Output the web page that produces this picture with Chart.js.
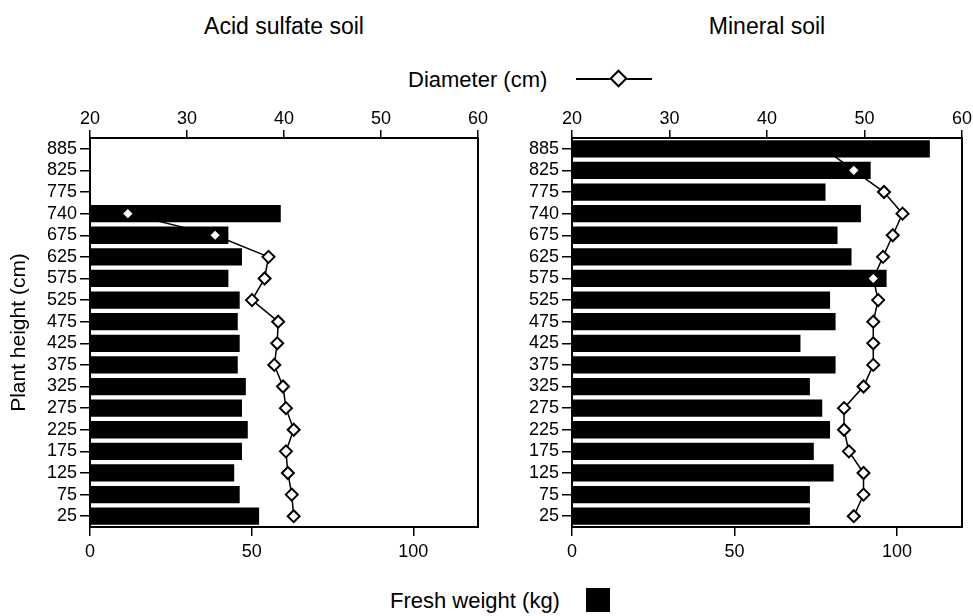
<!DOCTYPE html>
<html>
<head>
<meta charset="utf-8">
<script src="https://cdn.jsdelivr.net/npm/chart.js@4/dist/chart.umd.min.js"></script>
<style>
  html, body { margin: 0; padding: 0; background: #fff; }
  #page { position: relative; width: 973px; height: 616px; overflow: hidden; font-family: "Liberation Sans", Arial, Helvetica, sans-serif; color: #000; }
  .abs { position: absolute; white-space: nowrap; }
  .title { font-size: 23px; line-height: 23px; text-align: center; width: 300px; }
  .leg { font-size: 22px; line-height: 22px; }
  #legLine { position: absolute; left: 576px; top: 78px; width: 76px; height: 0; border-top: 2px solid #000; }
  #legDiamond { position: absolute; left: 612px; top: 72px; width: 9px; height: 9px; border: 2.5px solid #000; background: #fff; transform: rotate(45deg); }
  #legSquare { position: absolute; left: 586px; top: 588px; width: 24px; height: 24px; background: #000; }
  canvas { position: absolute; }
</style>
</head>
<body>
<div id="page">
  <div class="abs title" style="left:134px; top:15px;">Acid sulfate soil</div>
  <div class="abs title" style="left:617px; top:15px;">Mineral soil</div>
  <div class="abs leg" style="left:408px; top:69px;">Diameter (cm)</div>
  <div id="legLine"></div>
  <div id="legDiamond"></div>
  <div class="abs leg" style="left:390px; top:590px;">Fresh weight (kg)</div>
  <div id="legSquare"></div>
  <canvas id="c1" width="490" height="480" style="left:0px; top:90px;"></canvas>
  <canvas id="c2" width="483" height="480" style="left:490px; top:90px;"></canvas>
</div>
<script>
// ---- data ----
const heights = ['885','825','775','740','675','625','575','525','475','425','375','325','275','225','175','125','75','25'];
const acidWeight = [null, null, null, 59.0, 42.8, 47.0, 42.8, 46.3, 45.7, 46.3, 45.7, 48.2, 47.0, 48.8, 47.0, 44.6, 46.3, 52.3];
const acidDiameter = [null, null, null, 23.9, 32.9, 38.4, 38.0, 36.7, 39.4, 39.3, 39.0, 39.9, 40.2, 41.0, 40.2, 40.4, 40.8, 41.0];
const mineralWeight = [110.1, 91.9, 78.0, 88.9, 81.7, 86.0, 96.8, 79.4, 81.1, 70.3, 81.1, 73.2, 77.0, 79.4, 74.4, 80.5, 73.2, 73.2];
const mineralDiameter = [45.9, 48.9, 52.0, 53.9, 52.9, 51.9, 50.9, 51.4, 50.9, 50.9, 50.9, 49.9, 47.9, 47.9, 48.4, 49.9, 49.9, 48.9];
const weightTicks = [0, 50, 100];
const diameterTicks = [20, 30, 40, 50, 60];

const FONT = "'Liberation Sans', Arial, Helvetica, sans-serif";

const framePlugin = {
  id: 'frame',
  afterDatasetsDraw(chart) {
    const a = chart.chartArea, ctx = chart.ctx;
    ctx.save();
    ctx.strokeStyle = '#000';
    ctx.lineWidth = 2;
    ctx.strokeRect(a.left, a.top, a.right - a.left, a.bottom - a.top);
    ctx.restore();
  }
};

function makeChart(id, weights, diams, opts) {
  const tickFont = { family: FONT, size: 18 };
  return new Chart(document.getElementById(id), {
    data: {
      labels: heights,
      datasets: [
        {
          type: 'line', indexAxis: 'y', data: diams, xAxisID: 'x2', yAxisID: 'y',
          borderColor: '#000', borderWidth: 1.5, tension: 0, spanGaps: false,
          pointStyle: 'rectRot',
          pointRadius: (ctx) => (opts.hideFirstMarker && ctx.dataIndex === 0) ? 0 : 6,
          pointBackgroundColor: '#fff', pointBorderColor: '#000', pointBorderWidth: 2,
          order: 0
        },
        {
          type: 'bar', indexAxis: 'y', data: weights, xAxisID: 'x', yAxisID: 'y',
          backgroundColor: '#000', borderWidth: 0,
          barPercentage: 0.8, categoryPercentage: 1,
          order: 1
        }
      ]
    },
    options: {
      indexAxis: 'y',
      responsive: false,
      animation: false,
      layout: { padding: { left: 0, top: 0, bottom: 0, right: opts.padRight } },
      plugins: { legend: { display: false }, tooltip: { enabled: false } },
      scales: {
        x: {
          type: 'linear', position: 'bottom', min: 0, max: 120,
          afterBuildTicks: (s) => { s.ticks = weightTicks.map(v => ({ value: v })); },
          afterFit: (s) => { s.height = 43; },
          ticks: { font: tickFont, color: '#000', padding: 5, maxRotation: 0, autoSkip: false },
          grid: { drawOnChartArea: false, drawTicks: true, tickLength: 9, color: '#000', lineWidth: 1.5 },
          border: { display: true, color: '#000', width: 2 }
        },
        x2: {
          type: 'linear', position: 'top', min: 20, max: 60,
          afterBuildTicks: (s) => { s.ticks = diameterTicks.map(v => ({ value: v })); },
          afterFit: (s) => { s.height = 48; },
          ticks: { font: tickFont, color: '#000', padding: 0, maxRotation: 0, autoSkip: false },
          grid: { drawOnChartArea: false, drawTicks: true, tickLength: 8, color: '#000', lineWidth: 1.5 },
          border: { display: true, color: '#000', width: 2 }
        },
        y: {
          type: 'category', position: 'left', offset: true,
          afterFit: (s) => { s.width = opts.yWidth; },
          ticks: { font: tickFont, color: '#000', padding: 3, autoSkip: false },
          grid: { drawOnChartArea: false, drawTicks: true, tickLength: 10, color: '#000', lineWidth: 1.5, offset: false },
          border: { display: true, color: '#000', width: 2 },
          title: {
            display: opts.showTitle, text: 'Plant height (cm)', color: '#000',
            font: { family: FONT, size: 21 }, padding: { top: 7, bottom: 0 }
          }
        }
      }
    },
    plugins: [framePlugin]
  });
}

makeChart('c1', acidWeight, acidDiameter, { yWidth: 90, padRight: 12, showTitle: true, hideFirstMarker: false });
makeChart('c2', mineralWeight, mineralDiameter, { yWidth: 82, padRight: 11, showTitle: false, hideFirstMarker: true });
</script>
</body>
</html>
